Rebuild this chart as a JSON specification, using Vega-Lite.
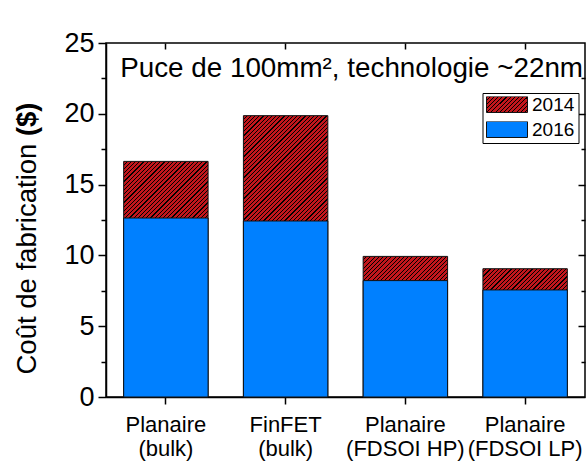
{
  "$schema": "https://vega.github.io/schema/vega-lite/v6.json",
  "width": 479,
  "height": 354,
  "autosize": {"type": "none"},
  "padding": {"left": 106, "top": 43, "right": 1, "bottom": 66},
  "background": "white",
  "config": {
    "font": "Liberation Sans",
    "view": {"stroke": "#000", "strokeWidth": 1.5},
    "axis": {"grid": false, "domainColor": "#000", "tickColor": "#000", "labelColor": "#000", "titleColor": "#000", "domainWidth": 1.5, "tickWidth": 1.5, "titleFontWeight": "normal", "labelFont": "Liberation Sans", "titleFont": "Liberation Sans"}
  },
  "title": {"text": "Puce de 100mm², technologie ~22nm", "anchor": "end", "orient": "top", "frame": "group", "offset": -35, "fontSize": 27.8, "fontWeight": "normal", "font": "Liberation Sans", "color": "#000", "baseline": "alphabetic", "dx": -2, "dy": 41},
  "params": [{"name": "hs", "value": [
    {"offset":0,"color":"#c3161c"},{"offset":0.01521,"color":"#c3161c"},{"offset":0.01521,"color":"#000"},{"offset":0.02083,"color":"#000"},
    {"offset":0.02083,"color":"#c3161c"},{"offset":0.03604,"color":"#c3161c"},{"offset":0.03604,"color":"#000"},{"offset":0.04167,"color":"#000"},
    {"offset":0.04167,"color":"#c3161c"},{"offset":0.05688,"color":"#c3161c"},{"offset":0.05688,"color":"#000"},{"offset":0.0625,"color":"#000"},
    {"offset":0.0625,"color":"#c3161c"},{"offset":0.07771,"color":"#c3161c"},{"offset":0.07771,"color":"#000"},{"offset":0.08333,"color":"#000"},
    {"offset":0.08333,"color":"#c3161c"},{"offset":0.09854,"color":"#c3161c"},{"offset":0.09854,"color":"#000"},{"offset":0.10417,"color":"#000"},
    {"offset":0.10417,"color":"#c3161c"},{"offset":0.11938,"color":"#c3161c"},{"offset":0.11938,"color":"#000"},{"offset":0.125,"color":"#000"},
    {"offset":0.125,"color":"#c3161c"},{"offset":0.14021,"color":"#c3161c"},{"offset":0.14021,"color":"#000"},{"offset":0.14583,"color":"#000"},
    {"offset":0.14583,"color":"#c3161c"},{"offset":0.16104,"color":"#c3161c"},{"offset":0.16104,"color":"#000"},{"offset":0.16667,"color":"#000"},
    {"offset":0.16667,"color":"#c3161c"},{"offset":0.18188,"color":"#c3161c"},{"offset":0.18188,"color":"#000"},{"offset":0.1875,"color":"#000"},
    {"offset":0.1875,"color":"#c3161c"},{"offset":0.20271,"color":"#c3161c"},{"offset":0.20271,"color":"#000"},{"offset":0.20833,"color":"#000"},
    {"offset":0.20833,"color":"#c3161c"},{"offset":0.22354,"color":"#c3161c"},{"offset":0.22354,"color":"#000"},{"offset":0.22917,"color":"#000"},
    {"offset":0.22917,"color":"#c3161c"},{"offset":0.24438,"color":"#c3161c"},{"offset":0.24438,"color":"#000"},{"offset":0.25,"color":"#000"},
    {"offset":0.25,"color":"#c3161c"},{"offset":0.26521,"color":"#c3161c"},{"offset":0.26521,"color":"#000"},{"offset":0.27083,"color":"#000"},
    {"offset":0.27083,"color":"#c3161c"},{"offset":0.28604,"color":"#c3161c"},{"offset":0.28604,"color":"#000"},{"offset":0.29167,"color":"#000"},
    {"offset":0.29167,"color":"#c3161c"},{"offset":0.30688,"color":"#c3161c"},{"offset":0.30688,"color":"#000"},{"offset":0.3125,"color":"#000"},
    {"offset":0.3125,"color":"#c3161c"},{"offset":0.32771,"color":"#c3161c"},{"offset":0.32771,"color":"#000"},{"offset":0.33333,"color":"#000"},
    {"offset":0.33333,"color":"#c3161c"},{"offset":0.34854,"color":"#c3161c"},{"offset":0.34854,"color":"#000"},{"offset":0.35417,"color":"#000"},
    {"offset":0.35417,"color":"#c3161c"},{"offset":0.36938,"color":"#c3161c"},{"offset":0.36938,"color":"#000"},{"offset":0.375,"color":"#000"},
    {"offset":0.375,"color":"#c3161c"},{"offset":0.39021,"color":"#c3161c"},{"offset":0.39021,"color":"#000"},{"offset":0.39583,"color":"#000"},
    {"offset":0.39583,"color":"#c3161c"},{"offset":0.41104,"color":"#c3161c"},{"offset":0.41104,"color":"#000"},{"offset":0.41667,"color":"#000"},
    {"offset":0.41667,"color":"#c3161c"},{"offset":0.43188,"color":"#c3161c"},{"offset":0.43188,"color":"#000"},{"offset":0.4375,"color":"#000"},
    {"offset":0.4375,"color":"#c3161c"},{"offset":0.45271,"color":"#c3161c"},{"offset":0.45271,"color":"#000"},{"offset":0.45833,"color":"#000"},
    {"offset":0.45833,"color":"#c3161c"},{"offset":0.47354,"color":"#c3161c"},{"offset":0.47354,"color":"#000"},{"offset":0.47917,"color":"#000"},
    {"offset":0.47917,"color":"#c3161c"},{"offset":0.49438,"color":"#c3161c"},{"offset":0.49438,"color":"#000"},{"offset":0.5,"color":"#000"},
    {"offset":0.5,"color":"#c3161c"},{"offset":0.51521,"color":"#c3161c"},{"offset":0.51521,"color":"#000"},{"offset":0.52083,"color":"#000"},
    {"offset":0.52083,"color":"#c3161c"},{"offset":0.53604,"color":"#c3161c"},{"offset":0.53604,"color":"#000"},{"offset":0.54167,"color":"#000"},
    {"offset":0.54167,"color":"#c3161c"},{"offset":0.55688,"color":"#c3161c"},{"offset":0.55688,"color":"#000"},{"offset":0.5625,"color":"#000"},
    {"offset":0.5625,"color":"#c3161c"},{"offset":0.57771,"color":"#c3161c"},{"offset":0.57771,"color":"#000"},{"offset":0.58333,"color":"#000"},
    {"offset":0.58333,"color":"#c3161c"},{"offset":0.59854,"color":"#c3161c"},{"offset":0.59854,"color":"#000"},{"offset":0.60417,"color":"#000"},
    {"offset":0.60417,"color":"#c3161c"},{"offset":0.61938,"color":"#c3161c"},{"offset":0.61938,"color":"#000"},{"offset":0.625,"color":"#000"},
    {"offset":0.625,"color":"#c3161c"},{"offset":0.64021,"color":"#c3161c"},{"offset":0.64021,"color":"#000"},{"offset":0.64583,"color":"#000"},
    {"offset":0.64583,"color":"#c3161c"},{"offset":0.66104,"color":"#c3161c"},{"offset":0.66104,"color":"#000"},{"offset":0.66667,"color":"#000"},
    {"offset":0.66667,"color":"#c3161c"},{"offset":0.68188,"color":"#c3161c"},{"offset":0.68188,"color":"#000"},{"offset":0.6875,"color":"#000"},
    {"offset":0.6875,"color":"#c3161c"},{"offset":0.70271,"color":"#c3161c"},{"offset":0.70271,"color":"#000"},{"offset":0.70833,"color":"#000"},
    {"offset":0.70833,"color":"#c3161c"},{"offset":0.72354,"color":"#c3161c"},{"offset":0.72354,"color":"#000"},{"offset":0.72917,"color":"#000"},
    {"offset":0.72917,"color":"#c3161c"},{"offset":0.74438,"color":"#c3161c"},{"offset":0.74438,"color":"#000"},{"offset":0.75,"color":"#000"},
    {"offset":0.75,"color":"#c3161c"},{"offset":0.76521,"color":"#c3161c"},{"offset":0.76521,"color":"#000"},{"offset":0.77083,"color":"#000"},
    {"offset":0.77083,"color":"#c3161c"},{"offset":0.78604,"color":"#c3161c"},{"offset":0.78604,"color":"#000"},{"offset":0.79167,"color":"#000"},
    {"offset":0.79167,"color":"#c3161c"},{"offset":0.80688,"color":"#c3161c"},{"offset":0.80688,"color":"#000"},{"offset":0.8125,"color":"#000"},
    {"offset":0.8125,"color":"#c3161c"},{"offset":0.82771,"color":"#c3161c"},{"offset":0.82771,"color":"#000"},{"offset":0.83333,"color":"#000"},
    {"offset":0.83333,"color":"#c3161c"},{"offset":0.84854,"color":"#c3161c"},{"offset":0.84854,"color":"#000"},{"offset":0.85417,"color":"#000"},
    {"offset":0.85417,"color":"#c3161c"},{"offset":0.86938,"color":"#c3161c"},{"offset":0.86938,"color":"#000"},{"offset":0.875,"color":"#000"},
    {"offset":0.875,"color":"#c3161c"},{"offset":0.89021,"color":"#c3161c"},{"offset":0.89021,"color":"#000"},{"offset":0.89583,"color":"#000"},
    {"offset":0.89583,"color":"#c3161c"},{"offset":0.91104,"color":"#c3161c"},{"offset":0.91104,"color":"#000"},{"offset":0.91667,"color":"#000"},
    {"offset":0.91667,"color":"#c3161c"},{"offset":0.93188,"color":"#c3161c"},{"offset":0.93188,"color":"#000"},{"offset":0.9375,"color":"#000"},
    {"offset":0.9375,"color":"#c3161c"},{"offset":0.95271,"color":"#c3161c"},{"offset":0.95271,"color":"#000"},{"offset":0.95833,"color":"#000"},
    {"offset":0.95833,"color":"#c3161c"},{"offset":0.97354,"color":"#c3161c"},{"offset":0.97354,"color":"#000"},{"offset":0.97917,"color":"#000"},
    {"offset":0.97917,"color":"#c3161c"},{"offset":0.99438,"color":"#c3161c"},{"offset":0.99438,"color":"#000"},{"offset":1,"color":"#000"}
  ]}],
  "data": {"values": [
    {"tech": "Planaire (bulk)", "year": "2014", "cost": 16.64},
    {"tech": "Planaire (bulk)", "year": "2016", "cost": 12.64},
    {"tech": "FinFET (bulk)", "year": "2014", "cost": 19.87},
    {"tech": "FinFET (bulk)", "year": "2016", "cost": 12.43},
    {"tech": "Planaire (FDSOI HP)", "year": "2014", "cost": 9.93},
    {"tech": "Planaire (FDSOI HP)", "year": "2016", "cost": 8.22},
    {"tech": "Planaire (FDSOI LP)", "year": "2014", "cost": 9.06},
    {"tech": "Planaire (FDSOI LP)", "year": "2016", "cost": 7.56}
  ]},
  "layer": [
    {
      "transform": [{"filter": "datum.year == '2014' && datum.tech == 'Planaire (bulk)'"}],
      "mark": {"type": "bar", "fill": {"expr": "{gradient: 'linear', x1: 0, y1: 0, x2: 0.2716, y2: 0.7584, stops: hs}"}, "stroke": "#111", "strokeWidth": 1},
      "encoding": {
        "x": {"field": "tech", "type": "nominal", "sort": null, "scale": {"domain": ["Planaire (bulk)", "FinFET (bulk)", "Planaire (FDSOI HP)", "Planaire (FDSOI LP)"], "paddingInner": 0.295, "paddingOuter": 0.1475},
          "axis": {"orient": "bottom", "title": null, "labelAngle": 0, "labelFontSize": 22, "labelPadding": 10, "labelLineHeight": 24, "tickSize": 7, "domain": true,
            "labelExpr": "[slice(datum.label, 0, indexof(datum.label, ' (')), slice(datum.label, indexof(datum.label, ' (') + 1)]"}},
        "y": {"field": "cost", "type": "quantitative", "scale": {"domain": [0, 25], "nice": false},
          "axis": {"orient": "left", "values": [0, 5, 10, 15, 20, 25], "tickSize": 8, "labelPadding": 4, "labelFontSize": 27, "domain": true,
            "title": "Coût de fabrication", "titleFontSize": 27.5, "titleAngle": -90, "titleAlign": "left", "titleBaseline": "alphabetic", "titleX": -71, "titleY": 331}}
      }
    },
    {
      "transform": [{"filter": "datum.year == '2014' && datum.tech == 'FinFET (bulk)'"}],
      "mark": {"type": "bar", "fill": {"expr": "{gradient: 'linear', x1: 0, y1: 0, x2: 0.1972, y2: 0.6573, stops: hs}"}, "stroke": "#111", "strokeWidth": 1},
      "encoding": {
        "x": {"field": "tech", "type": "nominal", "sort": null,
          "axis": {"orient": "top", "title": null, "labels": false, "domain": false, "tickSize": 6, "offset": -6}},
        "y": {"field": "cost", "type": "quantitative", "scale": {"domain": [0, 25], "nice": false},
          "axis": {"orient": "left", "values": [2.5, 7.5, 12.5, 17.5, 22.5], "labels": false, "domain": false, "tickSize": 5,
            "title": "($)", "titleFontWeight": "bold", "titleFontSize": 27.5, "titleAngle": -90, "titleAlign": "left", "titleBaseline": "alphabetic", "titleX": -71, "titleY": 92.6}}
      }
    },
    {
      "transform": [{"filter": "datum.year == '2014' && datum.tech == 'Planaire (FDSOI HP)'"}],
      "mark": {"type": "bar", "fill": {"expr": "{gradient: 'linear', x1: 0, y1: 0, x2: 0.6327, y2: 1.0541, stops: hs}"}, "stroke": "#111", "strokeWidth": 1},
      "encoding": {
        "x": {"field": "tech", "type": "nominal", "sort": null, "axis": null},
        "y": {"field": "cost", "type": "quantitative", "scale": {"domain": [0, 25], "nice": false},
          "axis": {"orient": "right", "values": [5, 10, 15, 20], "labels": false, "domain": false, "tickSize": 7, "offset": -7, "title": null}}
      }
    },
    {
      "transform": [{"filter": "datum.year == '2014' && datum.tech == 'Planaire (FDSOI LP)'"}],
      "mark": {"type": "bar", "fill": {"expr": "{gradient: 'linear', x1: 0, y1: 0, x2: 0.7215, y2: 1.0967, stops: hs}"}, "stroke": "#111", "strokeWidth": 1},
      "encoding": {
        "x": {"field": "tech", "type": "nominal", "sort": null, "axis": null},
        "y": {"field": "cost", "type": "quantitative", "scale": {"domain": [0, 25], "nice": false},
          "axis": {"orient": "right", "values": [2.5, 7.5, 12.5, 17.5, 22.5], "labels": false, "domain": false, "tickSize": 4, "offset": -4, "title": null}}
      }
    },
    {
      "transform": [{"filter": "datum.year == '2016'"}],
      "mark": {"type": "bar", "stroke": "#111", "strokeWidth": 1},
      "encoding": {
        "x": {"field": "tech", "type": "nominal", "sort": null, "axis": null},
        "y": {"field": "cost", "type": "quantitative", "scale": {"domain": [0, 25], "nice": false}, "axis": null},
        "color": {"field": "year", "type": "nominal",
          "scale": {"domain": ["2014", "2016"], "range": [{"expr": "{gradient: 'linear', x1: 0, y1: 0, x2: 4.267, y2: 1.665, stops: hs}"}, "#0080ff"]},
          "legend": {"title": null, "orient": "none", "legendX": 376.5, "legendY": 50, "symbolType": "M-1,-0.39H1V0.39H-1Z", "symbolSize": 1681,
            "symbolStrokeColor": "#111", "symbolStrokeWidth": 1, "symbolOpacity": 1, "labelFontSize": 19, "labelFont": "Liberation Sans", "labelColor": "#000",
            "labelOffset": 4, "padding": 3.5, "rowPadding": 6, "strokeColor": "#000", "fillColor": "#fff", "clipHeight": 16}}
      }
    }
  ],
  "resolve": {"axis": {"x": "independent", "y": "independent"}}
}
